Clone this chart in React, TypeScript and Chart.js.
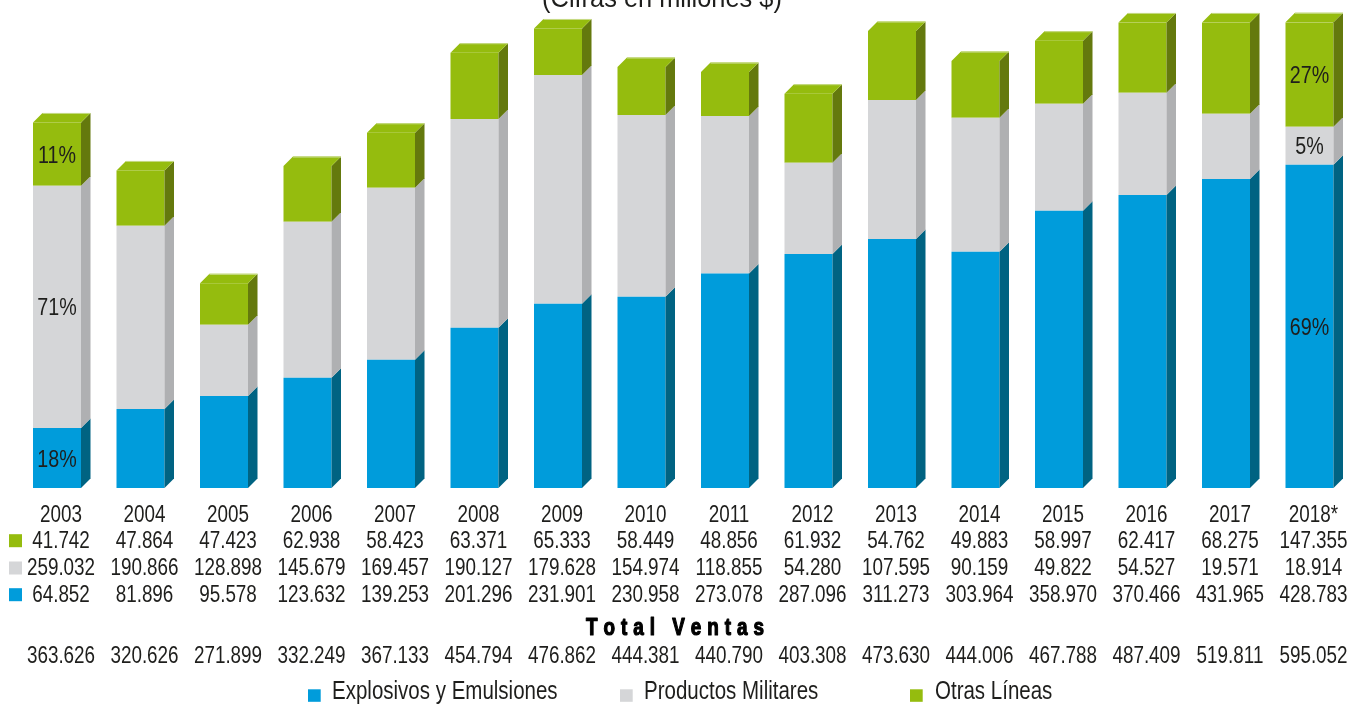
import React, { useEffect, useRef } from "react";
import { Chart, registerables } from "chart.js";

Chart.register(...registerables);

// ---- Data ----
const years = ["2003", "2004", "2005", "2006", "2007", "2008", "2009", "2010", "2011", "2012", "2013", "2014", "2015", "2016", "2017", "2018*"];

// Table values (millones $) as printed under the chart
const otrasLineas = [41742, 47864, 47423, 62938, 58423, 63371, 65333, 58449, 48856, 61932, 54762, 49883, 58997, 62417, 68275, 147355];
const productosMilitares = [259032, 190866, 128898, 145679, 169457, 190127, 179628, 154974, 118855, 54280, 107595, 90159, 49822, 54527, 19571, 18914];
const explosivosEmulsiones = [64852, 81896, 95578, 123632, 139253, 201296, 231901, 230958, 273078, 287096, 311273, 303964, 358970, 370466, 431965, 428783];
const totalVentas = [363626, 320626, 271899, 332249, 367133, 454794, 476862, 444381, 440790, 403308, 473630, 444006, 467788, 487409, 519811, 595052];

// Bar segment heights as drawn in the picture (millones $)
const barExplosivos = [62500, 82300, 95800, 114900, 133600, 167000, 192000, 199300, 223600, 243800, 259400, 246100, 288900, 305200, 321900, 336800];
const barMilitares = [252400, 190900, 74300, 162500, 179200, 217400, 238200, 189300, 163900, 95100, 144800, 139600, 111500, 106600, 68000, 39600];
const barOtras = [66000, 57700, 43100, 58000, 57300, 69100, 48600, 50000, 45800, 71900, 71900, 59100, 65600, 73300, 95200, 108800];

// Percentage labels printed inside bars
const pctExplosivos = ["18%", null, null, null, null, null, null, null, null, null, null, null, null, null, null, "69%"];
const pctMilitares = ["71%", null, null, null, null, null, null, null, null, null, null, null, null, null, null, "5%"];
const pctOtras = ["11%", null, null, null, null, null, null, null, null, null, null, null, null, null, null, "27%"];

const seriesNames = ["Explosivos y Emulsiones", "Productos Militares", "Otras Líneas"];
const yMax = 485200;
const title = "(Cifras en millones $)";
const totalTitle = "Total Ventas";

// ---- Styles ----
const FRONT = ["#009cdb", "#d5d6d8", "#95bc0e"];
const SIDE = ["#006382", "#afb0b2", "#64790d"];
const TEXT = "#1e1e1c";
const FAMILY = '"Liberation Sans", Arial, sans-serif';
const SX = 0.82;
const DX = 9.5;
const DY = 9.5;

function fmt(n: number): string {
  return String(n).replace(/\B(?=(\d{3})+(?!\d))/g, ".");
}

function txt(ctx: CanvasRenderingContext2D, s: string, x: number, y: number, size: number, align: CanvasTextAlign = "center", bold = false, sx = SX) {
  ctx.save();
  ctx.font = `${bold ? "bold " : ""}${size}px ${FAMILY}`;
  ctx.fillStyle = TEXT;
  ctx.textAlign = align;
  ctx.textBaseline = "alphabetic";
  ctx.translate(x, y);
  ctx.scale(sx, 1);
  ctx.fillText(s, 0, 0);
  ctx.restore();
}

function spaced(ctx: CanvasRenderingContext2D, s: string, cx: number, y: number, size: number, spacing: number, sx: number) {
  ctx.save();
  ctx.font = `bold ${size}px ${FAMILY}`;
  ctx.fillStyle = "#000";
  ctx.strokeStyle = "#000";
  ctx.lineWidth = 1.2;
  ctx.lineJoin = "round";
  ctx.textAlign = "left";
  ctx.textBaseline = "alphabetic";
  const ws = s.split("").map((c) => ctx.measureText(c).width * sx);
  const total = ws.reduce((a, b) => a + b, 0) + spacing * (s.length - 1);
  let x = cx - total / 2;
  s.split("").forEach((c, i) => {
    ctx.save();
    ctx.translate(x, y);
    ctx.scale(sx, 1);
    ctx.fillText(c, 0, 0);
    ctx.strokeText(c, 0, 0);
    ctx.restore();
    x += ws[i] + spacing;
  });
  ctx.restore();
}

const bars3d = {
  id: "bars3d",
  afterDatasetsDraw(chart: any) {
    const ctx: CanvasRenderingContext2D = chart.ctx;
    const n = chart.data.datasets.length;
    ctx.save();
    for (let d = 0; d < n; d++) {
      const meta = chart.getDatasetMeta(d);
      meta.data.forEach((el: any, i: number) => {
        const { x, y, base, width } = el.getProps(["x", "y", "base", "width"], true);
        const left = x - width / 2;
        const right = x + width / 2;
        const top = Math.min(y, base);
        const bottom = Math.max(y, base);
        // side face
        ctx.fillStyle = SIDE[d];
        ctx.beginPath();
        ctx.moveTo(right, top);
        ctx.lineTo(right + DX, top - DY);
        ctx.lineTo(right + DX, bottom - DY);
        ctx.lineTo(right, bottom);
        ctx.closePath();
        ctx.fill();
        if (d === n - 1) {
          // top face
          ctx.fillStyle = FRONT[d];
          ctx.beginPath();
          ctx.moveTo(left, top);
          ctx.lineTo(left + DX, top - DY);
          ctx.lineTo(right + DX, top - DY);
          ctx.lineTo(right, top);
          ctx.closePath();
          ctx.fill();
          ctx.strokeStyle = "#c9dc8c";
          ctx.lineWidth = 1;
          ctx.beginPath();
          ctx.moveTo(left + DX, top - DY + 0.5);
          ctx.lineTo(right + DX, top - DY + 0.5);
          ctx.stroke();
        }
        const lbl = (chart.data.datasets[d] as any).pctLabels[i];
        if (lbl) {
          txt(ctx, lbl, x, (top + bottom) / 2 + 8.5, 24);
        }
      });
    }
    ctx.restore();
  },
  afterDraw(chart: any) {
    const ctx: CanvasRenderingContext2D = chart.ctx;
    const xs = chart.scales.x;
    const area = chart.chartArea;
    const b = area.bottom;
    const colX = (i: number) => xs.getPixelForValue(i) + 4;

    // title (cut at the top)
    txt(ctx, title, 662, 7, 27, "center", false, 0.94);

    // years row
    years.forEach((yr, i) => txt(ctx, yr, colX(i), b + 33.7, 23));

    const rows = [
      { vals: otrasLineas, color: FRONT[2], base: b + 59.7 },
      { vals: productosMilitares, color: FRONT[1], base: b + 87 },
      { vals: explosivosEmulsiones, color: FRONT[0], base: b + 113.7 },
    ];
    rows.forEach((r) => {
      ctx.fillStyle = r.color;
      ctx.fillRect(9, r.base - 13.5, 13, 13);
      r.vals.forEach((v, i) => txt(ctx, fmt(v), colX(i), r.base, 23));
    });

    spaced(ctx, totalTitle, 675, b + 147, 23, 6.0, 0.82);
    totalVentas.forEach((v, i) => txt(ctx, fmt(v), colX(i), b + 175.3, 23));

    // legend
    const legend = [
      { name: seriesNames[0], color: FRONT[0], mx: 308, tx: 332 },
      { name: seriesNames[1], color: FRONT[1], mx: 620, tx: 644 },
      { name: seriesNames[2], color: FRONT[2], mx: 910, tx: 935 },
    ];
    legend.forEach((l) => {
      ctx.fillStyle = l.color;
      ctx.fillRect(l.mx, b + 201.3, 12.7, 12.5);
      txt(ctx, l.name, l.tx, b + 211.3, 25, "left");
    });
  },
};

export default function App() {
  const ref = useRef<HTMLCanvasElement | null>(null);
  useEffect(() => {
    if (!ref.current) return;
    const chart = new Chart(ref.current, {
      type: "bar",
      data: {
        labels: years,
        datasets: [
          { label: seriesNames[0], data: barExplosivos, backgroundColor: FRONT[0], pctLabels: pctExplosivos } as any,
          { label: seriesNames[1], data: barMilitares, backgroundColor: FRONT[1], pctLabels: pctMilitares } as any,
          { label: seriesNames[2], data: barOtras, backgroundColor: FRONT[2], pctLabels: pctOtras } as any,
        ],
      },
      options: {
        responsive: false,
        maintainAspectRatio: false,
        devicePixelRatio: 1,
        animation: false,
        layout: { padding: { top: 22.3, bottom: 216, left: 15.25, right: 1.75 } },
        datasets: { bar: { categoryPercentage: 1, barPercentage: 48 / 83.5, borderWidth: 0 } },
        scales: {
          x: { stacked: true, display: false, offset: true },
          y: { stacked: true, display: false, min: 0, max: yMax },
        },
        plugins: { legend: { display: false }, tooltip: { enabled: false }, title: { display: false } },
      },
      plugins: [bars3d],
    });
    return () => chart.destroy();
  }, []);
  return (
    <div style={{ position: "fixed", left: 0, top: 0, width: 1353, height: 704, background: "#fff" }}>
      <canvas ref={ref} width={1353} height={704} style={{ display: "block", width: 1353, height: 704 }} />
    </div>
  );
}
